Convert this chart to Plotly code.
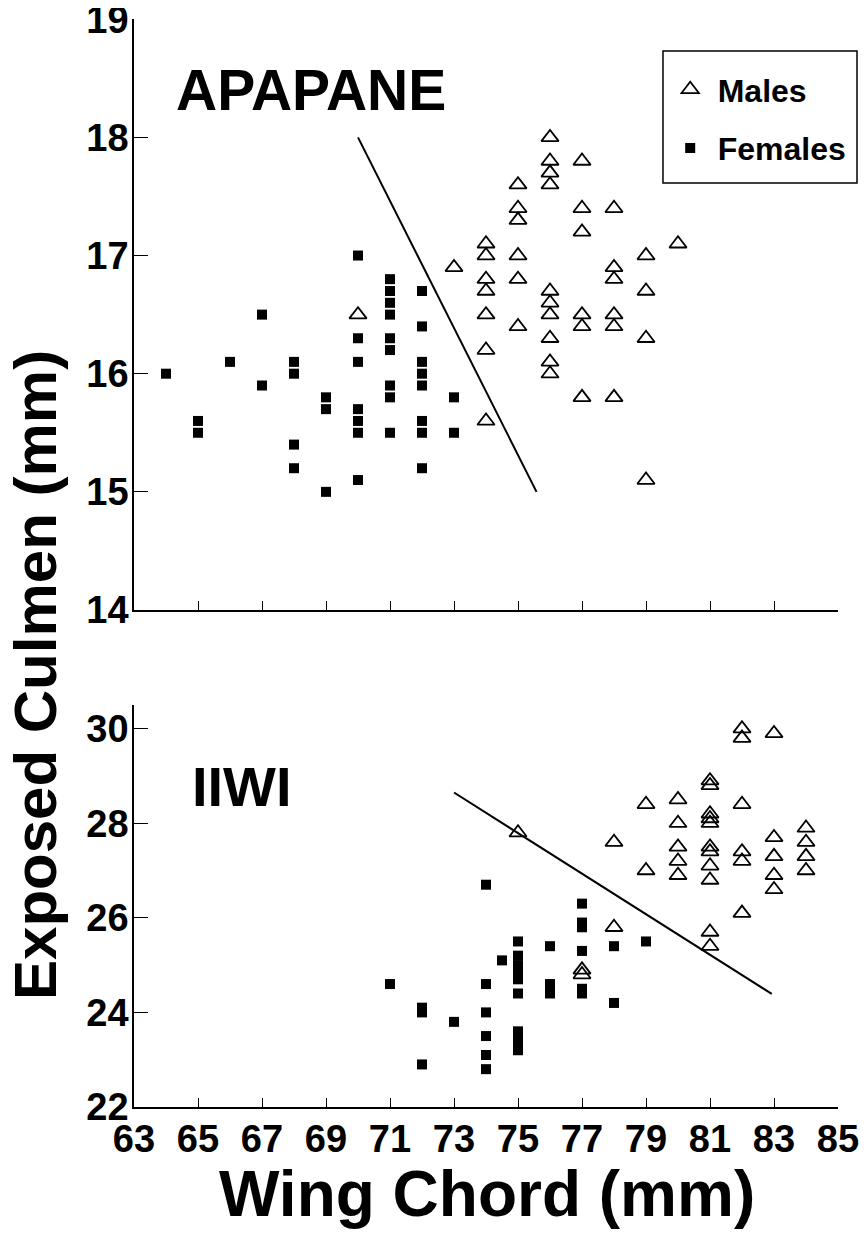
import plotly.graph_objects as go

# ---- APAPANE (top panel) ----
apa_male_x = [70, 73, 74, 74, 74, 74, 74, 74, 74, 75, 75, 75, 75, 75, 75,
              76, 76, 76, 76, 76, 76, 76, 76, 76, 76,
              77, 77, 77, 77, 77, 77, 78, 78, 78, 78, 78, 78,
              79, 79, 79, 79, 80]
apa_male_y = [16.5, 16.9, 17.1, 17.0, 16.8, 16.7, 16.5, 16.2, 15.6, 17.6, 17.4, 17.3, 17.0, 16.8, 16.4,
              18.0, 17.8, 17.7, 17.6, 16.7, 16.6, 16.5, 16.3, 16.1, 16.0,
              17.8, 17.4, 17.2, 16.5, 16.4, 15.8, 17.4, 16.9, 16.8, 16.5, 16.4, 15.8,
              17.0, 16.7, 16.3, 15.1, 17.1]
apa_fem_x = [64, 65, 65, 66, 67, 67, 68, 68, 68, 68, 69, 69, 69,
             70, 70, 70, 70, 70, 70, 70,
             71, 71, 71, 71, 71, 71, 71, 71, 71,
             72, 72, 72, 72, 72, 72, 72, 72, 73, 73]
apa_fem_y = [16.0, 15.6, 15.5, 16.1, 16.5, 15.9, 16.1, 16.0, 15.4, 15.2, 15.8, 15.7, 15.0,
             17.0, 16.3, 16.1, 15.7, 15.6, 15.5, 15.1,
             16.8, 16.7, 16.6, 16.5, 16.3, 16.2, 15.9, 15.8, 15.5,
             16.7, 16.4, 16.1, 16.0, 15.9, 15.6, 15.5, 15.2, 15.8, 15.5]
apa_line_x = [70, 75.58]
apa_line_y = [18.0, 15.0]

# ---- IIWI (bottom panel) ----
iiwi_male_x = [75, 77, 77, 78, 78, 79, 79, 80, 80, 80, 80, 80,
               81, 81, 81, 81, 81, 81, 81, 81, 81, 81, 81,
               82, 82, 82, 82, 82, 82, 83, 83, 83, 83, 83, 84, 84, 84, 84]
iiwi_male_y = [27.8, 24.9, 24.8, 27.6, 25.8, 28.4, 27.0, 28.5, 28.0, 27.5, 27.2, 26.9,
               28.9, 28.8, 28.2, 28.1, 28.0, 27.5, 27.4, 27.1, 26.8, 25.7, 25.4,
               30.0, 29.8, 28.4, 27.4, 27.2, 26.1, 29.9, 27.7, 27.3, 26.9, 26.6, 27.9, 27.6, 27.3, 27.0]
iiwi_fem_x = [71, 72, 72, 72, 73, 74, 74, 74, 74, 74, 74, 74.5,
              75, 75, 75, 75, 75, 75, 75, 75, 75, 75,
              76, 76, 76, 76, 77, 77, 77, 77, 77, 77, 78, 78, 79]
iiwi_fem_y = [24.6, 24.1, 24.0, 22.9, 23.8, 26.7, 24.6, 24.0, 23.5, 23.1, 22.8, 25.1,
              25.5, 25.2, 25.0, 24.8, 24.7, 24.4, 23.6, 23.5, 23.3, 23.2,
              25.4, 24.6, 24.5, 24.4, 26.3, 25.9, 25.8, 25.3, 24.5, 24.4, 25.4, 24.2, 25.5]
iiwi_line_x = [73, 82.93]
iiwi_line_y = [28.65, 24.39]

x_ticks = list(range(63, 86, 2))
apa_y_ticks = [14, 15, 16, 17, 18, 19]
iiwi_y_ticks = [22, 24, 26, 28, 30]

FONT = "Liberation Sans"
tri = dict(symbol="triangle-up-open", size=15, color="black", line=dict(width=1.8, color="black"))
sq = dict(symbol="square", size=10, color="black", line=dict(width=0))

fig = go.Figure()
fig.add_trace(go.Scatter(x=apa_male_x, y=apa_male_y, mode="markers", marker=tri,
                         name="Males", legendgroup="m", xaxis="x", yaxis="y"))
fig.add_trace(go.Scatter(x=apa_fem_x, y=apa_fem_y, mode="markers", marker=sq,
                         name="Females", legendgroup="f", xaxis="x", yaxis="y"))
fig.add_trace(go.Scatter(x=apa_line_x, y=apa_line_y, mode="lines", line=dict(color="black", width=2),
                         showlegend=False, xaxis="x", yaxis="y"))
fig.add_trace(go.Scatter(x=iiwi_male_x, y=iiwi_male_y, mode="markers", marker=tri,
                         showlegend=False, xaxis="x2", yaxis="y2"))
fig.add_trace(go.Scatter(x=iiwi_fem_x, y=iiwi_fem_y, mode="markers", marker=sq,
                         showlegend=False, xaxis="x2", yaxis="y2"))
fig.add_trace(go.Scatter(x=iiwi_line_x, y=iiwi_line_y, mode="lines", line=dict(color="black", width=2),
                         showlegend=False, xaxis="x2", yaxis="y2"))

tickfont = dict(family=FONT, size=38, color="black", weight="bold")
axis_common = dict(showline=True, linecolor="black", linewidth=1.5, showgrid=False, zeroline=False,
                   ticks="inside", tickcolor="black", tickwidth=1.2, tickfont=tickfont, mirror=False,
                   automargin=False, ticklabeloverflow="allow")

# page body has an 8px margin: the figure is sized so it fits the window exactly
fig.update_layout(
    width=860, height=1228,
    margin=dict(l=126, r=30, t=11, b=129),
    paper_bgcolor="white", plot_bgcolor="white",
    showlegend=True,
    xaxis=dict(axis_common, range=[63, 85], tickvals=x_ticks, showticklabels=False, ticklen=9,
               anchor="y", domain=[0, 1]),
    yaxis=dict(axis_common, range=[14, 19.002], tickvals=apa_y_ticks, ticklen=14,
               domain=[0.4568, 1.0], anchor="x", ticklabelstandoff=-4),
    xaxis2=dict(axis_common, range=[63, 85], tickvals=x_ticks, ticklen=9,
                anchor="y2", domain=[0, 1], ticklabelstandoff=-2),
    yaxis2=dict(axis_common, range=[22, 30.5], tickvals=iiwi_y_ticks, ticklen=14,
                domain=[0, 0.3695], anchor="x2", ticklabelstandoff=-4),
    legend=dict(x=0.751, y=0.9605, xanchor="left", yanchor="top",
                borderwidth=0, bgcolor="rgba(0,0,0,0)", itemwidth=45,
                font=dict(family=FONT, size=32, color="black", weight="bold"),
                tracegroupgap=14, traceorder="grouped"),
    shapes=[dict(type="rect", xref="paper", yref="paper", x0=0.7514, x1=1.0270, y0=0.8493, y1=0.9706,
                 line=dict(color="black", width=1.5), fillcolor="rgba(0,0,0,0)", layer="above")],
    annotations=[
        dict(text="APAPANE", x=64.25, y=18.4, xref="x", yref="y", xanchor="left", yanchor="middle",
             showarrow=False, font=dict(family=FONT, size=57, color="black", weight="bold")),
        dict(text="IIWI", x=64.75, y=28.78, xref="x2", yref="y2", xanchor="left", yanchor="middle",
             showarrow=False, font=dict(family=FONT, size=56, color="black", weight="bold")),
        dict(text="Exposed Culmen (mm)", x=-0.1392, y=0.3971, xref="paper", yref="paper",
             xanchor="center", yanchor="middle", textangle=-90, showarrow=False,
             font=dict(family=FONT, size=60, color="black", weight="bold")),
        dict(text="Wing Chord (mm)", x=0.5014, y=-0.080, xref="paper", yref="paper",
             xanchor="center", yanchor="middle", showarrow=False,
             font=dict(family=FONT, size=64, color="black", weight="bold")),
    ],
)

fig.write_html("out.html")
